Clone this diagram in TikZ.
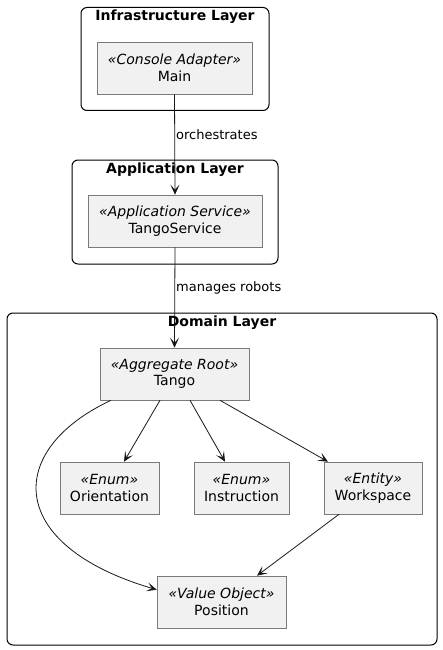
\documentclass[tikz,border=0pt]{standalone}
\usepackage{fontspec}
\setmainfont{DejaVu Sans}
\usetikzlibrary{arrows.meta}
\definecolor{boxfill}{HTML}{F1F1F1}
\definecolor{boxline}{HTML}{7A7A7A}
\definecolor{lnk}{HTML}{181818}
\tikzset{
  box/.style={draw=boxline, fill=boxfill, line width=0.6pt, minimum height=52pt, inner sep=0pt, align=center, font=\fontsize{14}{16.5}\selectfont},
  layer/.style={draw=black, line width=1pt, rounded corners=6pt, inner sep=0pt},
  ltitle/.style={font=\fontsize{14}{16}\selectfont\bfseries, anchor=north, inner sep=0pt},
  link/.style={draw=lnk, line width=0.8pt, -{Stealth[length=10pt,width=9pt,inset=5pt]}},
  lbl/.style={font=\fontsize{13}{15}\selectfont, anchor=west, inner sep=1pt}
}
\begin{document}
\begin{tikzpicture}[x=1pt,y=-1pt]
\useasboundingbox (0,0) rectangle (442,650);
% layers
\node[layer, minimum width=188pt, minimum height=103pt] (infra) at (175,59) {};
\node[ltitle] (infrat) at (175,10) {Infrastructure Layer};
\node[layer, minimum width=206pt, minimum height=104pt] (app) at (175,212) {};
\node[ltitle] (appt) at (175,163) {Application Layer};
\node[layer, minimum width=430pt, minimum height=332pt] (dom) at (222,479) {};
\node[ltitle] (domt) at (222,316) {Domain Layer};
% boxes
\node[box, minimum width=155pt] (main) at (174.5,68) {\textit{«Console Adapter»}\\Main};
\node[box, minimum width=174pt] (ts) at (175,221) {\textit{«Application Service»}\\TangoService};
\node[box, minimum width=149pt] (tango) at (174.5,374) {\textit{«Aggregate Root»}\\Tango};
\node[box, minimum width=99pt] (orient) at (109.5,488) {\textit{«Enum»}\\Orientation};
\node[box, minimum width=95pt] (instr) at (241.5,488) {\textit{«Enum»}\\Instruction};
\node[box, minimum width=98pt] (work) at (373,488) {\textit{«Entity»}\\Workspace};
\node[box, minimum width=129pt] (pos) at (221.5,602) {\textit{«Value Object»}\\Position};
% links
\draw[link] (main.south) -- node[lbl, pos=0.4] (l1) {orchestrates} (ts.north);
\draw[link] (ts.south) -- node[lbl, pos=0.4] (l2) {manages robots} (tango.north);
\draw[link] ([xshift=-14.5pt]tango.south) -- ([xshift=14.5pt]orient.north);
\draw[link] ([xshift=15.5pt]tango.south) -- ([xshift=-16.5pt]instr.north);
\draw[link] ([xshift=45.5pt]tango.south) -- ([xshift=-45pt]work.north);
\draw[link] ([xshift=-63.5pt]tango.south) .. controls (5,450) and (5,545) .. ([yshift=-14pt]pos.north west);
\draw[link] ([xshift=-34pt]work.south) -- ([xshift=35.5pt]pos.north);
\end{tikzpicture}
\end{document}
